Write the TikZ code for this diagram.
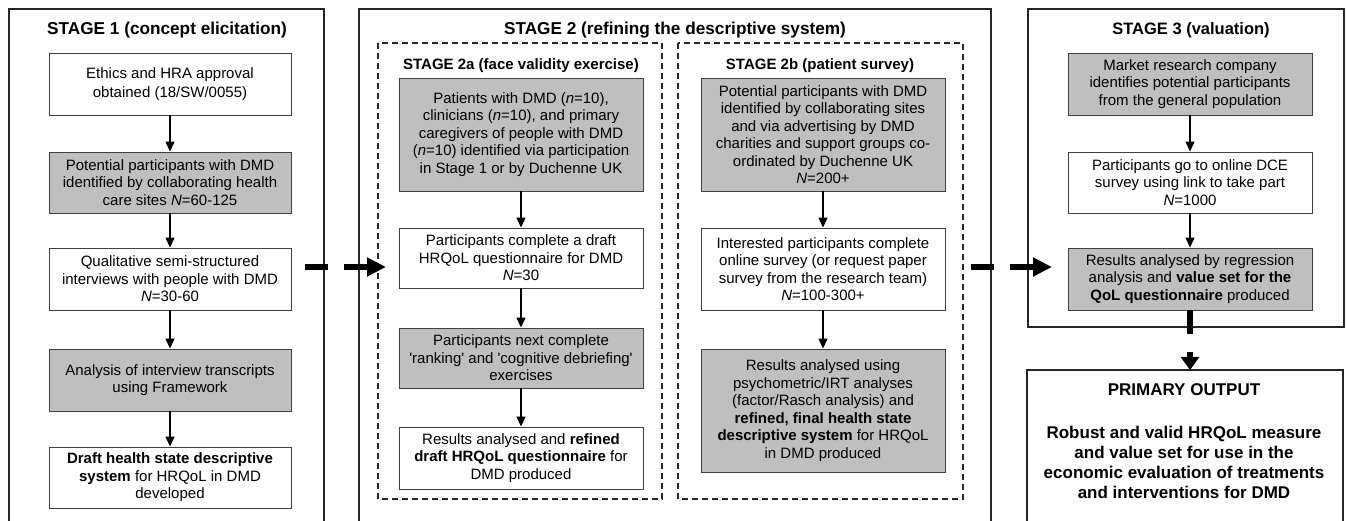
\documentclass[tikz,border=0pt]{standalone}
\usepackage{fontspec}
\setmainfont{Liberation Sans}
\usetikzlibrary{arrows.meta}
\definecolor{boxgray}{gray}{0.75}
\definecolor{edgegray}{gray}{0.25}
\tikzset{
  stagebox/.style={draw=edgegray, line width=0.9pt, align=center, inner sep=0pt,
     font=\fontsize{15}{17.5}\selectfont},
  whitebox/.style={stagebox, fill=white},
  graybox/.style={stagebox, fill=boxgray},
  frame/.style={draw=black!85, line width=1.4pt},
  dframe/.style={draw=black!85, line width=1.2pt, dash pattern=on 6pt off 4pt},
  stagetitle/.style={font=\fontsize{17.2}{19}\selectfont\bfseries, inner sep=0pt},
  subtitle/.style={font=\fontsize{15}{18}\selectfont\bfseries, inner sep=0pt},
  flow/.style={line width=1.2pt, -{Triangle[length=10pt,width=9pt]}},
  bigflow/.style={line width=6pt, dash pattern=on 23pt off 16pt, -{Triangle[length=19pt,width=18pt]}},
}
\begin{document}
\begin{tikzpicture}[x=1pt,y=-1pt]
\useasboundingbox (0,0) rectangle (1347,521);
% frames
\draw[frame] (9,521) -- (9,9) -- (324,9) -- (324,521);
\draw[frame] (359,521) -- (359,9) -- (991,9) -- (991,521);
\draw[frame] (1028,9) rectangle (1344,327);
\draw[frame] (1027,521) -- (1027,370) -- (1343,370) -- (1343,521);
\draw[dframe] (378,43) rectangle (662,499);
\draw[dframe] (678,43) rectangle (963,499);
% titles
\node[stagetitle] (t1) at (167,30) {STAGE 1 (concept elicitation)};
\node[stagetitle] (t2) at (675,30) {STAGE 2 (refining the descriptive system)};
\node[stagetitle, font=\fontsize{16.5}{19}\selectfont\bfseries] (t3) at (1191,30) {STAGE 3 (valuation)};
\node[subtitle] (t2a) at (521,66) {STAGE 2a (face validity exercise)};
\node[subtitle] (t2b) at (820,66) {STAGE 2b (patient survey)};
% stage 1
\node[whitebox, minimum width=242pt, minimum height=62pt, font=\fontsize{15}{19.3}\selectfont] (E1) at (170,84)
  {Ethics and HRA approval\\obtained (18/SW/0055)};
\node[graybox, minimum width=242pt, minimum height=61pt] (E2) at (170,182.5)
  {Potential participants with DMD\\identified by collaborating health\\care sites \textit{N}=60-125};
\node[whitebox, minimum width=242pt, minimum height=62pt] (E3) at (170,279)
  {Qualitative semi-structured\\interviews with people with DMD\\\textit{N}=30-60};
\node[graybox, minimum width=242pt, minimum height=62pt] (E4) at (170,380)
  {Analysis of interview transcripts\\using Framework};
\node[whitebox, minimum width=242pt, minimum height=61pt] (E5) at (170,477.5)
  {\textbf{Draft health state descriptive}\\\textbf{system} for HRQoL in DMD\\developed};
% stage 2a
\node[graybox, minimum width=244pt, minimum height=113pt] (A1) at (521,134.5)
  {Patients with DMD (\textit{n}=10),\\clinicians (\textit{n}=10), and primary\\caregivers of people with DMD\\(\textit{n}=10) identified via participation\\in Stage 1 or by Duchenne UK};
\node[whitebox, minimum width=244pt, minimum height=60pt] (A2) at (521,258)
  {Participants complete a draft\\HRQoL questionnaire for DMD\\\textit{N}=30};
\node[graybox, minimum width=244pt, minimum height=60pt] (A3) at (521,358)
  {Participants next complete\\\textquotesingle ranking\textquotesingle\ and \textquotesingle cognitive debriefing\textquotesingle\\exercises};
\node[whitebox, minimum width=244pt, minimum height=62pt] (A4) at (521,458)
  {Results analysed and \textbf{refined}\\\textbf{draft HRQoL questionnaire} for\\DMD produced};
% stage 2b
\node[graybox, minimum width=244pt, minimum height=113pt] (B1) at (823,134.5)
  {Potential participants with DMD\\identified by collaborating sites\\and via advertising by DMD\\charities and support groups co-\\ordinated by Duchenne UK\\\textit{N}=200+};
\node[whitebox, minimum width=244pt, minimum height=82pt] (B2) at (823,269)
  {Interested participants complete\\online survey (or request paper\\survey from the research team)\\\textit{N}=100-300+};
\node[graybox, minimum width=244pt, minimum height=123pt] (B3) at (823,410.5)
  {Results analysed using\\psychometric/IRT analyses\\(factor/Rasch analysis) and\\\textbf{refined, final health state}\\\textbf{descriptive system} for HRQoL\\in DMD produced};
% stage 3
\node[graybox, minimum width=244pt, minimum height=62pt] (C1) at (1190,84)
  {Market research company\\identifies potential participants\\from the general population};
\node[whitebox, minimum width=244pt, minimum height=61pt] (C2) at (1190,182.5)
  {Participants go to online DCE\\survey using link to take part\\\textit{N}=1000};
\node[graybox, minimum width=244pt, minimum height=62pt] (C3) at (1190,279)
  {Results analysed by regression\\analysis and \textbf{value set for the}\\\textbf{QoL questionnaire} produced};
% primary output
\node[inner sep=0pt, font=\fontsize{17}{20}\selectfont\bfseries] (ot) at (1184,390) {PRIMARY OUTPUT};
\node[inner sep=0pt, align=center, font=\fontsize{17}{20}\selectfont\bfseries] (ob) at (1184,462)
  {Robust and valid HRQoL measure\\and value set for use in the\\economic evaluation of treatments\\and interventions for DMD};
% connectors
\draw[flow] (E1) -- (E2);
\draw[flow] (E2) -- (E3);
\draw[flow] (E3) -- (E4);
\draw[flow] (E4) -- (E5);
\draw[flow] (A1) -- (A2);
\draw[flow] (A2) -- (A3);
\draw[flow] (A3) -- (A4);
\draw[flow] (B1) -- (B2);
\draw[flow] (B2) -- (B3);
\draw[flow] (C1) -- (C2);
\draw[flow] (C2) -- (C3);
\coordinate (s1out) at (305,267);
\coordinate (s2in) at (386,267);
\coordinate (s2out) at (971,267);
\coordinate (s3in) at (1052,267);
\coordinate (outtop) at (1188,370);
\draw[bigflow] (s1out) -- (s2in);
\draw[bigflow] (s2out) -- (s3in);
\draw[line width=6pt, dash pattern=on 24pt off 18pt, -{Triangle[length=13pt,width=18pt]}] (C3.south) -- (C3.south |- outtop);
\end{tikzpicture}
\end{document}
